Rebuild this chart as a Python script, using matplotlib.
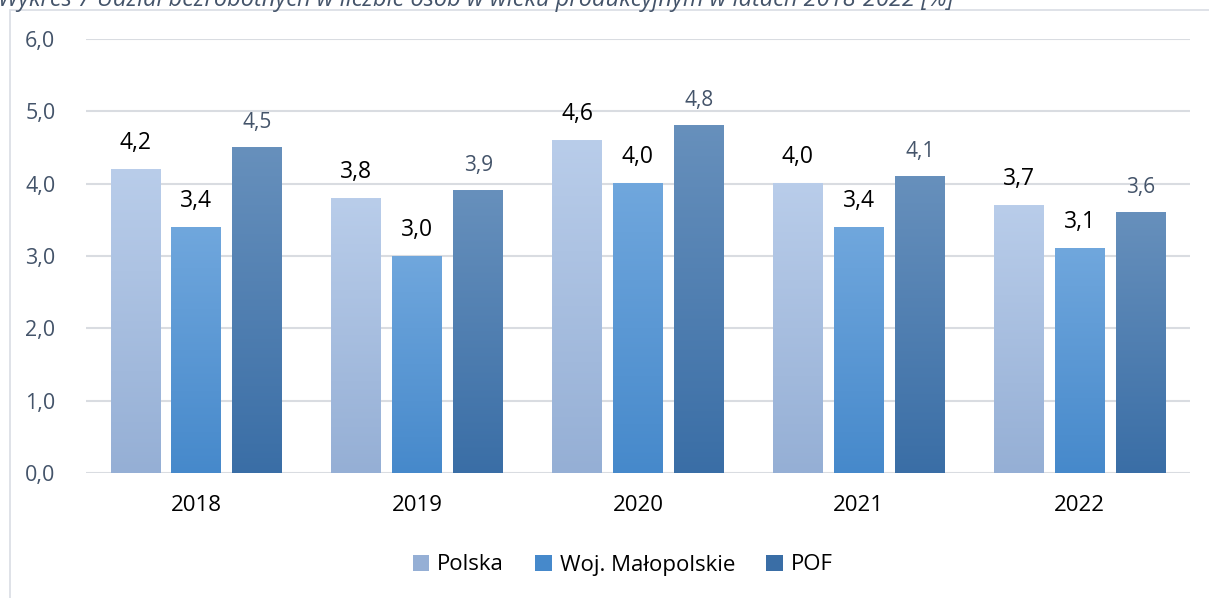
import numpy as np
import matplotlib.pyplot as plt
from matplotlib.colors import LinearSegmentedColormap
from matplotlib.patches import Rectangle, Patch

# data
years = ['2018', '2019', '2020', '2021', '2022']
series = ['Polska', 'Woj. Małopolskie', 'POF']
polska = [4.2, 3.8, 4.6, 4.0, 3.7]
malopolskie = [3.4, 3.0, 4.0, 3.4, 3.1]
pof = [4.5, 3.9, 4.8, 4.1, 3.6]
y_ticks = [0, 1, 2, 3, 4, 5, 6]

# gradient colours (top, bottom) for each series
grads = [('#b9cdea', '#95afd5'), ('#70a7dd', '#4689cb'), ('#6790bc', '#3a6ea6')]
label_colors = ['black', 'black', '#44546a']
label_sizes = [16.5, 16.5, 15]

plt.rcParams['font.family'] = ['Open Sans', 'DejaVu Sans']

fig = plt.figure(figsize=(12.09, 5.98), dpi=100)
ax = fig.add_axes([86 / 1209, 1 - 473 / 598, (1190 - 86) / 1209, (473 - 39) / 598])

# light frame around the chart area
fig.patches.append(Rectangle((10 / 1209, -0.1), 1.2, 1 - 10 / 598 + 0.1,
                             transform=fig.transFigure, fill=False,
                             edgecolor='#d9dde4', linewidth=1.2))

# title is cut off at the top edge, as in the source document
fig.text(-0.002, 1 - 6 / 598, 'Wykres 7 Udział bezrobotnych w liczbie osób w wieku produkcyjnym w latach 2018-2022 [%]',
         fontsize=17, style='italic', color='#44546a', va='baseline', ha='left')

x = np.arange(len(years))
width = 0.226
offsets = [-0.276, 0, 0.276]
grad_img = np.linspace(1, 0, 256).reshape(-1, 1)

for vals, off, (top, bot), lc, ls in zip([polska, malopolskie, pof], offsets, grads, label_colors, label_sizes):
    cmap = LinearSegmentedColormap.from_list('g', [bot, top])
    bars = ax.bar(x + off, vals, width, color='none', edgecolor='none', zorder=2)
    for b, v in zip(bars, vals):
        x0 = b.get_x()
        ax.imshow(grad_img, cmap=cmap, aspect='auto', extent=[x0, x0 + width, 0, v],
                  zorder=2, vmin=0, vmax=1)
        ax.text(x0 + width / 2, v + 0.2, f'{v:.1f}'.replace('.', ','), ha='center', va='bottom',
                fontsize=ls, color=lc)

ax.set_xlim(-0.5, 4.5)
ax.set_ylim(0, 6)
ax.set_yticks(y_ticks)
ax.set_yticklabels([f'{t:.1f}'.replace('.', ',') for t in y_ticks], fontsize=15.5, color='#44546a')
ax.set_xticks(x)
ax.set_xticklabels(years, fontsize=16, color='black')
ax.tick_params(axis='y', length=0, pad=22)
ax.tick_params(axis='x', length=0, pad=16)
ax.grid(axis='y', color='#d9dce1', linewidth=1.5, zorder=0)
ax.set_axisbelow(True)
for s in ax.spines.values():
    s.set_visible(False)

handles = [Patch(facecolor=grads[i][1], label=series[i]) for i in range(3)]
fig.legend(handles=handles, loc='center', bbox_to_anchor=(0.515, 1 - 565 / 598), ncol=3,
           frameon=False, fontsize=16, handlelength=0.75, handleheight=0.75,
           handletextpad=0.35, columnspacing=1.4)

fig.savefig('out.png', dpi=100)
